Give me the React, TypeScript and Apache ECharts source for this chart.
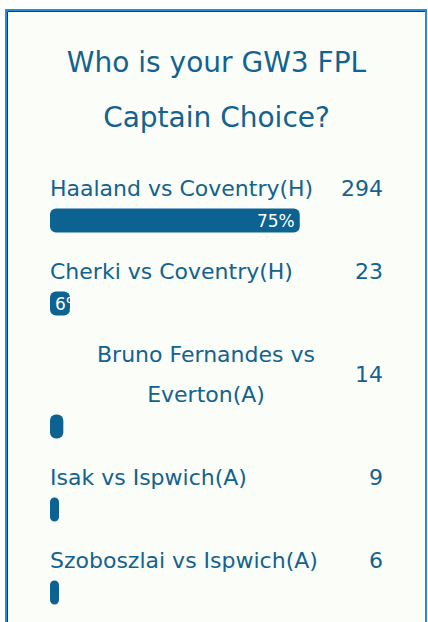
import React, { useEffect, useRef } from "react";
import * as echarts from "echarts";

const titleLines = ["Who is your GW3 FPL", "Captain Choice?"];
const players = [
  "Haaland vs Coventry(H)",
  "Cherki vs Coventry(H)",
  "Bruno Fernandes vs Everton(A)",
  "Isak vs Ispwich(A)",
  "Szoboszlai vs Ispwich(A)",
];
const votes = [294, 23, 14, 9, 6];
const percents = [75, 6, 4, 2, 2];

const FONT = "'DejaVu Sans', sans-serif";
const TEXT = "#13628f";
const BAR = "#0c6290";
const BG = "#fbfdf8";

// layout
const LEFT = 50;
const TRACK_W = 333;
const NAME_W = 312;
const FIRST_NAME_Y = 188;
const LINE_H = 40;
const BAR_H = 24;
const NAME_TO_BAR = 32.5;
const BAR_TO_NAME = 50.5;

// greedy word wrap, same idea as the html label column
const wrap = (text: string, width: number, font: string) => {
  const ctx = document.createElement("canvas").getContext("2d")!;
  ctx.font = font;
  const words = text.split(" ");
  const lines: string[] = [];
  let cur = "";
  words.forEach((w) => {
    const next = cur ? cur + " " + w : w;
    if (cur && ctx.measureText(next).width > width) {
      lines.push(cur);
      cur = w;
    } else {
      cur = next;
    }
  });
  if (cur) lines.push(cur);
  return lines;
};

const App = () => {
  const chartRef = useRef<HTMLDivElement>(null);

  useEffect(() => {
    if (!chartRef.current) return;
    const chart = echarts.init(chartRef.current, undefined, { renderer: "svg" });

    const grid: any[] = [];
    const xAxis: any[] = [];
    const yAxis: any[] = [];
    const series: any[] = [];
    const graphic: any[] = [
      {
        type: "rect",
        shape: { x: 6, y: 10, width: 420, height: 640 },
        style: { fill: BG, stroke: "#1d8fe0", lineWidth: 2 },
      },
      {
        type: "polyline",
        shape: { points: [[7.5, 650], [7.5, 11.5], [425, 11.5]] },
        style: { stroke: "#173552", lineWidth: 1, fill: "none" },
      },
    ];

    titleLines.forEach((t, i) => {
      graphic.push({
        type: "text",
        x: 216.5,
        y: 62.5 + i * 54.5,
        style: {
          text: t,
          fill: TEXT,
          fontSize: 28,
          fontFamily: FONT,
          align: "center",
          verticalAlign: "middle",
        },
      });
    });

    let nameY = FIRST_NAME_Y;
    players.forEach((name, i) => {
      const lines = wrap(name, NAME_W, `22px ${FONT}`);
      const wrapped = lines.length > 1;
      lines.forEach((ln, k) => {
        graphic.push({
          type: "text",
          x: wrapped ? LEFT + NAME_W / 2 : LEFT,
          y: nameY + k * LINE_H,
          style: {
            text: ln,
            fill: TEXT,
            fontSize: 22,
            fontFamily: FONT,
            align: wrapped ? "center" : "left",
            verticalAlign: "middle",
          },
        });
      });
      const blockMid = nameY + ((lines.length - 1) * LINE_H) / 2;
      graphic.push({
        type: "text",
        x: LEFT + TRACK_W,
        y: blockMid,
        style: {
          text: String(votes[i]),
          fill: TEXT,
          fontSize: 22,
          fontFamily: FONT,
          align: "right",
          verticalAlign: "middle",
        },
      });

      const barMid = nameY + (lines.length - 1) * LINE_H + NAME_TO_BAR;
      grid.push({ left: LEFT, width: TRACK_W, top: barMid - BAR_H / 2, height: BAR_H });
      xAxis.push({ gridIndex: i, type: "value", min: 0, max: 100, show: false });
      yAxis.push({ gridIndex: i, type: "category", data: [name], show: false });

      const pct = percents[i];
      let label: any = { show: false };
      if (pct >= 10) {
        label = {
          show: true,
          position: "insideRight",
          formatter: "{c}%",
          color: "#ffffff",
          fontSize: 17,
          fontFamily: FONT,
        };
      } else if (pct >= 5) {
        // white text runs past the tiny bar and fades into the panel
        label = {
          show: true,
          position: "insideLeft",
          distance: 5,
          formatter: "{c}%",
          color: "#ffffff",
          fontSize: 17,
          fontFamily: FONT,
        };
      }

      series.push({
        type: "bar",
        xAxisIndex: i,
        yAxisIndex: i,
        data: [pct],
        barWidth: BAR_H,
        barMinHeight: 9,
        itemStyle: { color: BAR, borderRadius: 6 },
        label,
      });

      nameY = barMid + BAR_TO_NAME;
    });

    chart.setOption({
      animation: false,
      backgroundColor: "transparent",
      grid,
      xAxis,
      yAxis,
      series,
      graphic,
    });

    return () => {
      chart.dispose();
    };
  }, []);

  return (
    <div
      ref={chartRef}
      style={{ position: "absolute", left: 0, top: 0, width: "428px", height: "622px" }}
    />
  );
};

export default App;
